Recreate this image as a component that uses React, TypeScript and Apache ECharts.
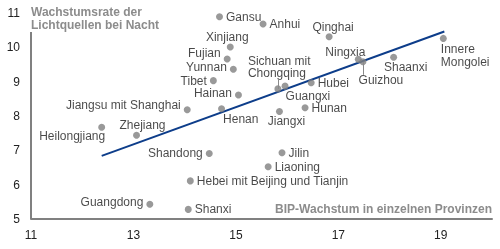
import React, { useEffect, useRef } from "react";
import * as echarts from "echarts";

// Provinces (label text as printed in the chart)
const provinces = [
  "Gansu", "Anhui", "Qinghai", "Xinjiang", "Fujian", "Yunnan", "Tibet", "Hainan",
  "Jiangsu mit Shanghai", "Henan", "Zhejiang", "Heilongjiang", "Shandong",
  "Hebei mit Beijing und Tianjin", "Guangdong", "Shanxi", "Jilin", "Liaoning",
  "Sichuan mit\nChongqing", "Guangxi", "Hubei", "Hunan", "Jiangxi", "Ningxia",
  "Guizhou", "Shaanxi", "Innere\nMongolei",
];
// BIP-Wachstum (x)
const gdpGrowth = [
  14.68, 15.53, 16.82, 14.89, 14.83, 14.95, 14.56, 15.05,
  14.05, 14.72, 13.06, 12.38, 14.48,
  14.11, 13.32, 14.07, 15.9, 15.63,
  15.82, 15.96, 16.47, 16.35, 15.85, 17.39,
  17.48, 18.08, 19.05,
];
// Wachstumsrate der Lichtquellen bei Nacht (y)
const lightGrowth = [
  10.89, 10.68, 10.31, 10.01, 9.66, 9.36, 9.03, 8.61,
  8.18, 8.21, 7.44, 7.67, 6.91,
  6.11, 5.43, 5.28, 6.93, 6.52,
  8.79, 8.87, 8.97, 8.24, 8.13, 9.65,
  9.58, 9.71, 10.26,
];
// Trend line end points
const trendX = [12.38, 19.07];
const trendY = [6.84, 10.46];

const xTitle = "BIP-Wachstum in einzelnen Provinzen";
const yTitleLines = ["Wachstumsrate der", "Lichtquellen bei Nacht"];

// label placement (style only): [position, dx, dy, align]
const placement: Record<string, [string, number, number, string?]> = {
  Gansu: ["right", 0, 0],
  Anhui: ["right", 0, 0],
  Qinghai: ["top", 4, 3],
  Xinjiang: ["top", -3, 3],
  Fujian: ["left", 0, -6],
  Yunnan: ["left", 0, -2.5],
  Tibet: ["left", 0, 0],
  Hainan: ["left", 0, -2],
  "Jiangsu mit Shanghai": ["left", 0, -5],
  Henan: ["right", -5, 10],
  Zhejiang: ["top", 6, 3],
  Heilongjiang: ["left", 10, 9],
  Shandong: ["left", 0, 0],
  "Hebei mit Beijing und Tianjin": ["right", 0, 0],
  Guangdong: ["left", 0, -2],
  Shanxi: ["right", 0, 0],
  Jilin: ["right", 0, 0],
  Liaoning: ["right", 0, 0],
  "Sichuan mit\nChongqing": ["top", -30, -3, "left"],
  Guangxi: ["right", -6, 10],
  Hubei: ["right", 0, 0],
  Hunan: ["right", 0, 0],
  Jiangxi: ["bottom", 7, -3.5],
  Ningxia: ["top", -13, 5],
  Guizhou: ["bottom", 18, 5.5],
  Shaanxi: ["bottom", 12, -3.5],
  "Innere\nMongolei": ["bottom", -2.5, -2, "left"],
};
// leader lines (which points carry one, and direction in data units)
const leaders: Record<string, number> = {
  "Sichuan mit\nChongqing": 0.3,
  Guizhou: -0.38,
};

const FONT = "'Liberation Sans', Arial, sans-serif";

export default function App() {
  const ref = useRef<HTMLDivElement>(null);
  useEffect(() => {
    if (!ref.current) return;
    const chart = echarts.init(ref.current, undefined, { renderer: "svg" });

    const points = provinces.map((name, i) => {
      const p = placement[name] || ["right", 0, 0];
      return {
        name,
        value: [gdpGrowth[i], lightGrowth[i]],
        label: {
          position: p[0],
          offset: [p[1], p[2]],
          align: p[3],
        },
      };
    });

    const leaderLines = provinces
      .map((name, i) => ({ name, i }))
      .filter((d) => leaders[d.name] !== undefined)
      .map(({ name, i }) => [
        {
          coord: [gdpGrowth[i], lightGrowth[i]],
          lineStyle: { color: "#8a8a8a", width: 1, type: "solid" },
        },
        { coord: [gdpGrowth[i], lightGrowth[i] + leaders[name]] },
      ]);

    chart.setOption({
      animation: false,
      textStyle: { fontFamily: FONT },
      grid: { left: 31, right: 8, top: 13, bottom: 30, containLabel: false },
      xAxis: {
        type: "value",
        min: 11,
        max: 20,
        interval: 2,
        axisLine: { show: true, lineStyle: { color: "#808080", width: 2 } },
        axisTick: { show: false },
        splitLine: { show: false },
        axisLabel: {
          color: "#222",
          fontSize: 12,
          fontFamily: FONT,
          margin: 10,
          showMaxLabel: false,
        },
      },
      yAxis: {
        type: "value",
        min: 5,
        max: 11,
        interval: 1,
        axisLine: { show: false },
        axisTick: { show: false },
        splitLine: { show: false },
        axisLabel: { color: "#222", fontSize: 12, fontFamily: FONT, margin: 11 },
      },
      graphic: [
        ...yTitleLines.map((t, i) => ({
          type: "text",
          left: 31,
          top: 6 + i * 12.5,
          style: {
            text: t,
            fill: "#8c8c8c",
            font: `bold 12px ${FONT}`,
          },
        })),
        {
          type: "text",
          right: 8,
          top: 203,
          style: {
            text: xTitle,
            fill: "#8c8c8c",
            font: `bold 12px ${FONT}`,
          },
        },
      ],
      series: [
        {
          type: "line",
          data: trendX.map((x, i) => [x, trendY[i]]),
          showSymbol: false,
          symbol: "none",
          lineStyle: { color: "#0d3d8a", width: 2 },
          z: 1,
          silent: true,
        },
        {
          type: "scatter",
          data: points,
          symbolSize: 7,
          itemStyle: { color: "#808080" },
          z: 3,
          label: {
            show: true,
            formatter: "{b}",
            color: "#1a1a1a",
            fontSize: 12,
            fontFamily: FONT,
            lineHeight: 12.5,
            distance: 3,
          },
          markLine: {
            silent: true,
            symbol: "none",
            label: { show: false },
            lineStyle: { color: "#808080", width: 2, type: "solid" },
            data: [
              [{ coord: [11, 5] }, { coord: [11, 10.45] }],
              ...leaderLines,
            ],
          },
        },
      ],
    });
    return () => chart.dispose();
  }, []);
  return (
    <div
      ref={ref}
      style={{ position: "fixed", left: 0, top: 0, width: 500, height: 249 }}
    />
  );
}
